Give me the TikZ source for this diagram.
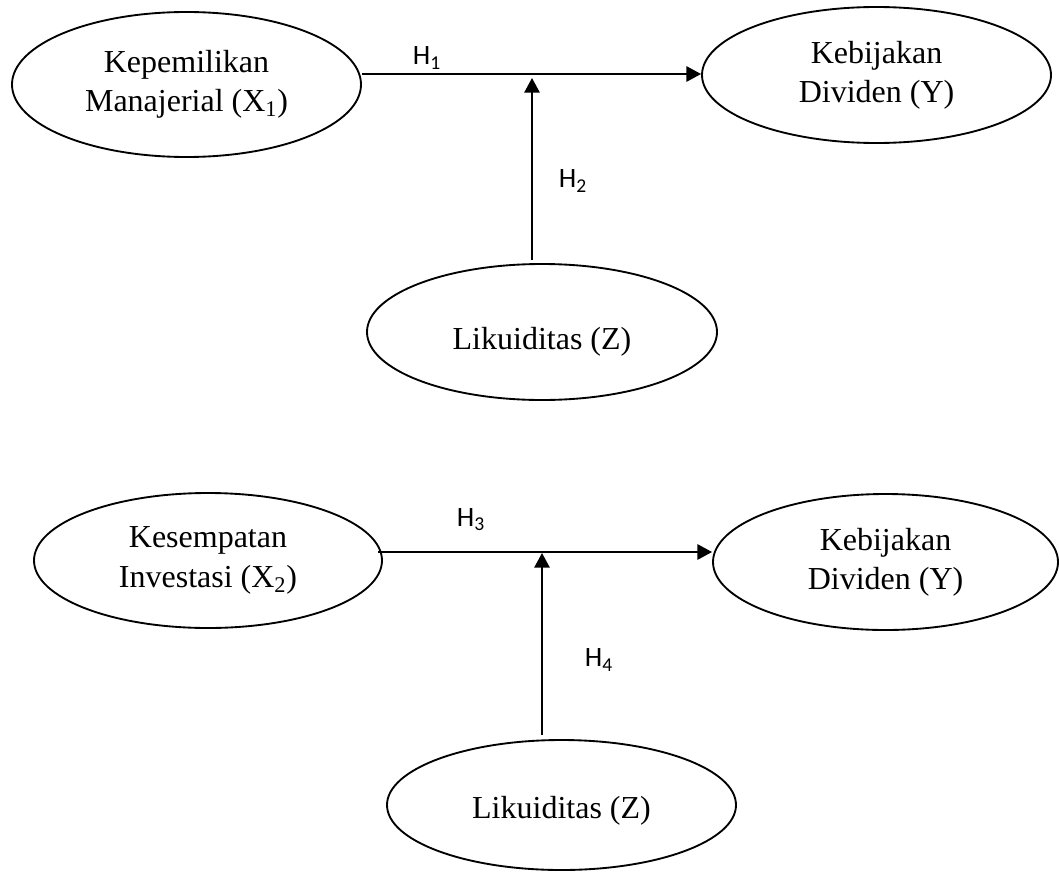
\documentclass[tikz,border=0pt]{standalone}
\usepackage{fontspec}
\setmainfont{Liberation Serif}
\newfontfamily\hfont{Carlito}
\usetikzlibrary{shapes.geometric,arrows.meta}

\begin{document}
\begin{tikzpicture}[x=0.75pt,y=0.75pt,yscale=-1,xscale=1,
    oval/.style={draw, ellipse, line width=1.4pt, inner sep=0pt, align=center, font=\fontsize{24}{29.5}\selectfont},
    txt/.style={inner sep=0pt, font=\fontsize{24}{29.5}\selectfont},
    conn/.style={line width=1.4pt, -{Triangle[length=11pt,width=11.5pt]}},
    hyp/.style={inner sep=0pt, font=\hfont\fontsize{21}{24}\selectfont}]

        \useasboundingbox (0,0) rectangle (1059,874);

        \node [oval, minimum width=261.75pt, minimum height=108.75pt] (mgr) at (186.5,84.5) {Kepemilikan\\Manajerial (X\textsubscript{1})};
        \node [oval, minimum width=261.75pt, minimum height=102pt] (div1) at (876.5,75) {Kebijakan\\Dividen (Y)};
        \node [oval, minimum width=262.5pt, minimum height=102pt] (liq1) at (542,332) {};
        \node [txt] (liq1t) at ([yshift=7.5pt]liq1.center) {Likuiditas (Z)};

        \node [oval, minimum width=261pt, minimum height=101.25pt] (inv) at (208,560.5) {Kesempatan\\Investasi (X\textsubscript{2})};
        \node [oval, minimum width=258.75pt, minimum height=102pt] (div2) at (885.5,562) {Kebijakan\\Dividen (Y)};
        \node [oval, minimum width=261.75pt, minimum height=97.5pt] (liq2) at (561.5,805) {};
        \node [txt] (liq2t) at ([yshift=4.5pt]liq2.center) {Likuiditas (Z)};

        \coordinate (h1) at (362,74);
        \coordinate (v1) at (532,260);
        \coordinate (j1) at (532,78);
        \coordinate (h2) at (378,552);
        \coordinate (v2) at (542,735);
        \coordinate (j2) at (542,553);

        \draw [conn] (h1) -- (h1 -| div1.west);
        \draw [conn] (v1) -- (j1);
        \draw [conn] (h2) -- (h2 -| div2.west);
        \draw [conn] (v2) -- (j2);

        \node [hyp] (hy1) at (427,58) {H\textsubscript{1}};
        \node [hyp] (hy2) at (573,181) {H\textsubscript{2}};
        \node [hyp] (hy3) at (471,520) {H\textsubscript{3}};
        \node [hyp] (hy4) at (599,660) {H\textsubscript{4}};
\end{tikzpicture}
\end{document}
